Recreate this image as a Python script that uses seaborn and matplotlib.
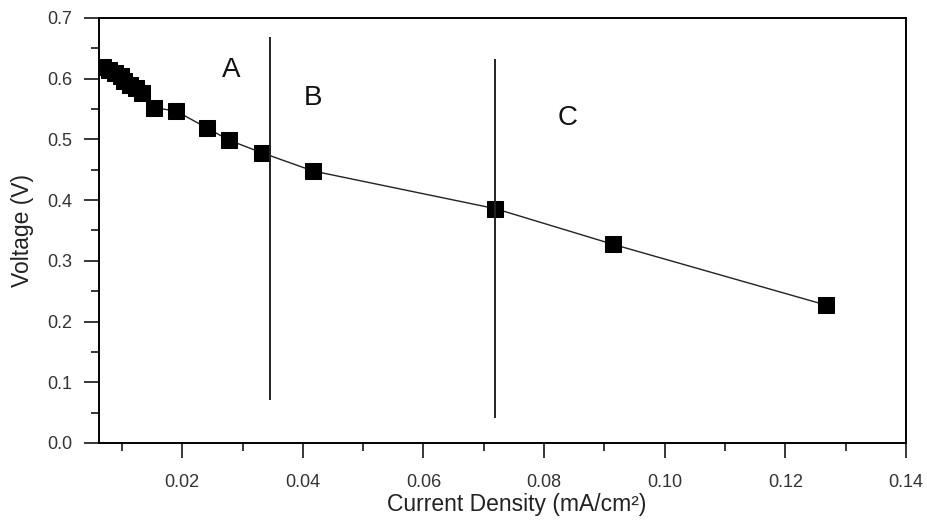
import matplotlib
matplotlib.use("Agg")
import matplotlib.pyplot as plt
from matplotlib.ticker import MultipleLocator
import pandas as pd
import seaborn as sns

current_density = [0.0069, 0.0079, 0.0089, 0.0098, 0.0104, 0.0113, 0.0123, 0.0134,
                   0.0154, 0.0189, 0.0241, 0.0277, 0.0332, 0.0417, 0.0719, 0.0915, 0.1268]
voltage = [0.619, 0.615, 0.610, 0.604, 0.597, 0.590, 0.584, 0.577,
           0.552, 0.547, 0.519, 0.499, 0.478, 0.448, 0.386, 0.327, 0.227]

region_x = [0.0346, 0.0719]
region_ymin = [0.071, 0.041]
region_ymax = [0.668, 0.632]
region_labels = ["A", "B", "C"]
label_x = [0.0282, 0.0417, 0.0839]
label_y = [0.614, 0.569, 0.536]

df = pd.DataFrame({"x": current_density, "y": voltage})

sns.set_style("ticks")
plt.rcParams['font.family'] = ['Liberation Sans', 'DejaVu Sans']

fig = plt.figure(figsize=(9.27, 5.23), dpi=100)
ax = fig.add_axes([0.1068, 0.153, 0.8705, 0.8126])

sns.lineplot(data=df, x="x", y="y", ax=ax, color="#222222", linewidth=1.0,
             marker="s", markersize=11, markerfacecolor="black",
             markeredgecolor="black", sort=False)

for xv, y0, y1 in zip(region_x, region_ymin, region_ymax):
    ax.vlines(xv, y0, y1, color="#222222", linewidth=1.4)

for t, xv, yv in zip(region_labels, label_x, label_y):
    ax.text(xv, yv, t, fontsize=20, ha="center", va="center", color="#111111")

ax.set_xlim(0.0062, 0.14)
ax.set_ylim(0.0, 0.7)
ax.set_xticks([0.02, 0.04, 0.06, 0.08, 0.10, 0.12, 0.14])
ax.set_xticklabels(["0.02", "0.04", "0.06", "0.08", "0.10", "0.12", "0.14"])
ax.xaxis.set_minor_locator(MultipleLocator(0.01))
ax.yaxis.set_major_locator(MultipleLocator(0.1))
ax.yaxis.set_minor_locator(MultipleLocator(0.05))
ax.tick_params(which="major", length=11, width=1.3, labelsize=13,
               direction="out", labelcolor="#333333")
ax.tick_params(axis="x", which="major", pad=11.5)
ax.tick_params(axis="y", which="major", pad=8)
ax.tick_params(which="minor", length=6, width=1.3, direction="out")
for s in ax.spines.values():
    s.set_linewidth(1.4)
    s.set_color("black")

ax.set_xlabel("Current Density (mA/cm²)", fontsize=16.5, labelpad=1,
              color="#222222", x=0.518)
ax.set_ylabel("Voltage (V)", fontsize=16.5, labelpad=10, color="#222222")

fig.savefig("out.png", dpi=100)
